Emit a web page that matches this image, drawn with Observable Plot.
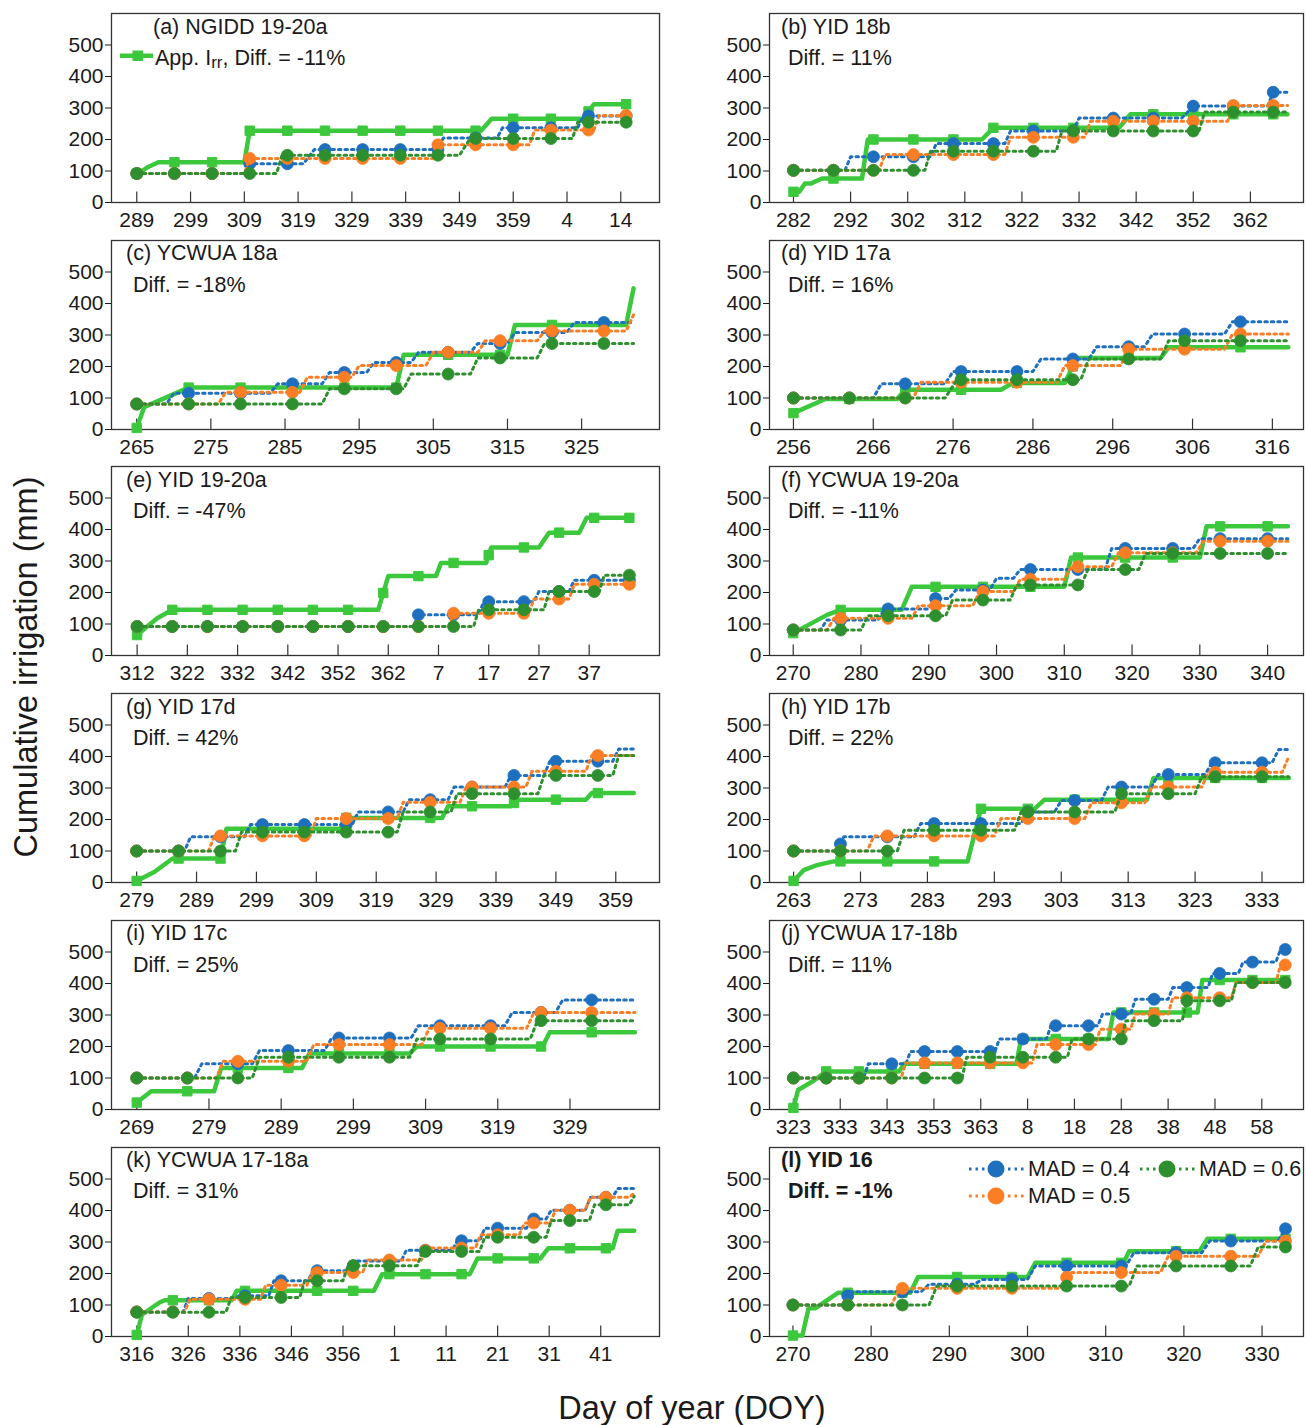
<!DOCTYPE html>
<html>
<head>
<meta charset="utf-8">
<script src="https://cdn.jsdelivr.net/npm/d3@7"></script>
<script src="https://cdn.jsdelivr.net/npm/@observablehq/plot@0.6"></script>
<style>
  html, body { margin: 0; padding: 0; background: #fff; }
  #root { position: relative; width: 1306px; height: 1425px; overflow: hidden; font-family: Arial, "Liberation Sans", sans-serif; color: #1a1a1a; }
  .panel { position: absolute; }
  .txt { position: absolute; font-size: 21.5px; line-height: 21px; white-space: nowrap; color: #1a1a1a; }
  .bold { font-weight: bold; }
</style>
</head>
<body>
<div id="root"></div>
<script>
// ---------------- DATA ----------------
const panelIds = ["a","b","c","d","e","f","g","h","i","j","k","l"];
const titles = ["(a) NGIDD 19-20a","(b) YID 18b","(c) YCWUA 18a","(d) YID 17a","(e) YID 19-20a","(f) YCWUA 19-20a",
                "(g) YID 17d","(h) YID 17b","(i) YID 17c","(j) YCWUA 17-18b","(k) YCWUA 17-18a","(l) YID 16"];
const diffs = ["-11%","11%","-18%","16%","-47%","-11%","42%","22%","25%","11%","31%","-1%"];
const startDays = [289,282,265,256,312,270,279,263,269,323,316,270];
const endDays   = [380,368.5,332,318,410,343,362,337,338,428,412.5,333];
const xMin = [284.3,277.8,261.6,253.0,306.9,266.5,274.8,259.4,265.5,317.9,311.1,267.0];
const xMax = [386.2,371.3,335.5,319.9,416.0,345.3,366.3,339.2,341.4,431.9,417.4,335.3];

// x tick values (day count; values above 365 wrap into the next year)
const ticks_a = [289,299,309,319,329,339,349,359,369,379];
const ticks_b = [282,292,302,312,322,332,342,352,362];
const ticks_c = [265,275,285,295,305,315,325];
const ticks_d = [256,266,276,286,296,306,316];
const ticks_e = [312,322,332,342,352,362,372,382,392,402];
const ticks_f = [270,280,290,300,310,320,330,340];
const ticks_g = [279,289,299,309,319,329,339,349,359];
const ticks_h = [263,273,283,293,303,313,323,333];
const ticks_i = [269,279,289,299,309,319,329];
const ticks_j = [323,333,343,353,363,373,383,393,403,413,423];
const ticks_k = [316,326,336,346,356,366,376,386,396,406];
const ticks_l = [270,280,290,300,310,320,330];
const yTicks = [0,100,200,300,400,500];

// series: first [day, value], then [day rise starts, new value, rise length in days (default 1)]
const a_app = [[289,92],[289,100],[290,112],[291,120],[292,128],[309,228],[353,266,2],[372,312,2]];
const a_m4  = [[289,92],[309,123],[320,168,2],[345,205],[356,237],[371,275]];
const a_m5  = [[289,92],[309,140],[344,183],[362,230],[374,276]];
const a_m6  = [[289,92],[315,150],[349,203,2],[370,255]];

const b_app = [[282,34],[283,60],[285,76,2],[294,200],[315,237,2],[339,280,2]];
const b_m4  = [[282,102],[291,145],[306,187],[319,227],[331,268],[350,306,2],[365,350]];
const b_m5  = [[282,102],[297,152],[319,207],[333,258],[358,308]];
const b_m6  = [[282,102],[305,163],[328,227],[353,287]];

const c_app = [[265,5],[265,71],[266,133,6],[300,237],[315,332],[331,448]];
const c_m4  = [[265,81],[269,115],[283,145],[290,181],[296,213],[302,245],[310,273],[315,308],[323,340]];
const c_m5  = [[265,81],[276,118],[287,166],[294,203],[304,245],[311,282],[319,313],[331,364]];
const c_m6  = [[265,81],[290,129],[301,176],[310,227],[319,273]];

const d_app = [[256,52],[256,97,4],[269,126],[282,148,1.5],[290,227,1.5],[302,261]];
const d_m4  = [[256,100],[266,145],[275,184],[286,224],[293,263],[300,303],[310,342]];
const d_m5  = [[256,100],[271,150],[289,203],[297,255],[310,303]];
const d_m6  = [[256,100],[275,158,1.5],[292,224],[302,282]];

const e_app = [[312,65],[312,92,2],[314,118,2],[316,145,3],[360,252,2],[371.5,294],[381.5,343],[392,390,2],[400,437,1.5]];
const e_m4  = [[312,92],[367,129],[380,171],[391,203],[398,239]];
const e_m5  = [[312,92],[374,134],[390,179],[398,226]];
const e_m6  = [[312,92],[379,145],[393,203],[404,255]];

const f_app = [[270,71],[270,129,5],[275,145,2],[286,218,1.5],[310,311],[330,410]];
const f_m4  = [[270,81],[274,113],[282.5,148],[290,181],[293,208],[299,245],[302.5,273],[316,340],[329,371]];
const f_m5  = [[270,81],[275,118],[287.5,158],[296.5,203],[302.5,242],[310,282],[317,326],[329.5,363]];
const f_m6  = [[270,81],[280,126],[292.5,176],[302,224],[312.5,273],[321,324]];

const g_app = [[279,5],[279,34,3],[282,76,3],[293,171],[313,205],[330,242],[341.5,263],[354,284]];
const g_m4  = [[279,100],[287,145],[297,184],[315,224],[323.5,263],[331,303],[340.5,340],[347,385],[358.5,424]];
const g_m5  = [[279,100],[291,148],[308,203],[322.5,255],[333,303],[344,353],[354,403]];
const g_m6  = [[279,100],[295.5,160],[322.5,224],[331.5,282],[346,340],[358.5,403]];

const h_app = [[263,5],[263,39,1.5],[264.5,55,2],[266.5,67,2.5],[289,234,2],[299,263,1.5],[315.8,332]];
const h_m4  = [[263,100],[269.5,145],[281,187],[297,224],[302,260],[309,303],[316.5,343],[324.5,380],[334.5,422]];
const h_m5  = [[263,100],[274,148],[293,203],[306.5,253],[315.5,303],[324,350],[336,400]];
const h_m6  = [[263,100],[278.5,166],[296,224],[311,282],[323,336]];

const i_app = [[269,22],[269,58,2],[279.7,132],[291.9,178],[306.8,200],[325.2,245]];
const i_m4  = [[269,100],[277,145],[285,187],[295,227],[307,266],[320,308],[327,348]];
const i_m5  = [[269,100],[280,153],[292.5,206],[308.5,258],[323,308]];
const i_m6  = [[269,100],[285,166],[306.8,224],[323.5,282]];

const j_app = [[323,5],[323,62],[324,92,3.4],[327.4,121,2.6],[345.6,145],[370.6,224],[390.3,308],[409.3,411]];
const j_m4  = [[323,100],[338,145],[347,184],[366,224],[377,266],[388,303],[395,350],[403,387],[411.5,432],[418,468],[426,508]];
const j_m5  = [[323,100],[346,148],[374,206],[387.5,255],[395,303],[403,355],[416.5,403],[426,459]];
const j_m6  = [[323,100],[359,166],[381.5,224],[393,282],[406,345],[416.5,403]];

const k_app = [[316,5],[316,69],[317,108,3.4],[320.4,115],[334.4,145],[362,198,1.6],[380.6,248,1.5],[394.3,280,1.5],[408.3,336]];
const k_m4  = [[316,78],[325,121],[334.8,129],[341.6,177],[349.2,209],[357.5,240],[367.3,274],[377.2,304],[382.5,344],[391.6,373],[395.4,401],[403,442],[408.3,470]];
const k_m5  = [[316,78],[325.3,118],[340,163],[349,203],[359.8,243],[371.2,281],[381.7,323],[390.2,360],[396.2,401],[403,442],[411.5,455]];
const k_m6  = [[316,77],[333.3,124],[347.6,177],[356,225],[370.4,270],[382.5,315],[395.4,368],[403.8,418],[411.5,445]];

const l_app = [[270,3],[271.2,90,0.8],[272.9,139,2.9],[285,189],[300,234],[312.3,271,0.7],[322,310]];
const l_m4  = [[270,100],[276.3,142],[286.4,166],[293.2,181],[300,224],[312.6,266],[322.3,303],[332,342]];
const l_m5  = [[270,100],[282.6,153],[304.3,203],[317,255],[329.5,303]];
const l_m6  = [[270,100],[287.4,160],[313,224],[328.5,284]];

const seriesNames = ["App. Irr","MAD = 0.4","MAD = 0.5","MAD = 0.6"];
const seriesColors = ["#3cc83c","#1f6fbf","#fb7d24","#2e8f2e"];

// ---------------- BUILD ----------------
const panelSeries = [
  [a_app,a_m4,a_m5,a_m6],[b_app,b_m4,b_m5,b_m6],[c_app,c_m4,c_m5,c_m6],[d_app,d_m4,d_m5,d_m6],
  [e_app,e_m4,e_m5,e_m6],[f_app,f_m4,f_m5,f_m6],[g_app,g_m4,g_m5,g_m6],[h_app,h_m4,h_m5,h_m6],
  [i_app,i_m4,i_m5,i_m6],[j_app,j_m4,j_m5,j_m6],[k_app,k_m4,k_m5,k_m6],[l_app,l_m4,l_m5,l_m6]
];
const panelTicks = [ticks_a,ticks_b,ticks_c,ticks_d,ticks_e,ticks_f,ticks_g,ticks_h,ticks_i,ticks_j,ticks_k,ticks_l];

function buildLine(steps, end) {
  const pts = [{x: steps[0][0], y: steps[0][1]}];
  let cur = steps[0][1];
  for (const [d, v, w = 1] of steps.slice(1)) {
    const last = pts[pts.length - 1];
    if (d > last.x) pts.push({x: d, y: cur});
    pts.push({x: d + w, y: v});
    cur = v;
  }
  if (end > pts[pts.length - 1].x) pts.push({x: end, y: cur});
  return pts;
}
function valueAt(pts, d) {
  if (d <= pts[0].x) return pts[0].y;
  for (let i = 0; i < pts.length - 1; i++) {
    const p = pts[i], q = pts[i + 1];
    if (d >= p.x && d <= q.x) return q.x === p.x ? q.y : p.y + (q.y - p.y) * (d - p.x) / (q.x - p.x);
  }
  return pts[pts.length - 1].y;
}
const fmtDay = d => String(d > 365 ? d - 365 : d);

const root = document.getElementById("root");
const FONT = 'Arial, "Liberation Sans", sans-serif';

panelIds.forEach((id, i) => {
  const col = i % 2, row = Math.floor(i / 2);
  const frameTop = 13 + 226.7 * row;
  const left = col === 0 ? 0 : 660;
  const width = col === 0 ? 662 : 646;
  const mL = col === 0 ? 111 : 109;
  const start = startDays[i], end = endDays[i];
  const marks = [
    Plot.frame({stroke: "#333", strokeWidth: 1.3}),
    Plot.ruleX(panelTicks[i], {x: d => d, y1: 0, y2: 33, stroke: "#333", strokeWidth: 1.2}),
    Plot.axisX({ticks: panelTicks[i], tickFormat: fmtDay, tickSize: 0, tickPadding: 10, label: null}),
    Plot.axisY({ticks: yTicks, tickSize: 6, tickPadding: 2, label: null})
  ];
  panelSeries[i].forEach((steps, s) => {
    const pts = buildLine(steps, end);
    const mk = [];
    for (let d = start; d <= end + 1e-6; d += 7) mk.push({x: d, y: valueAt(pts, d)});
    const color = seriesColors[s];
    if (s === 0) {
      marks.push(Plot.line(pts, {x: "x", y: "y", stroke: color, strokeWidth: 4.5, strokeLinejoin: "round"}));
      marks.push(Plot.dot(mk, {x: "x", y: "y", symbol: "square", r: 5.3, fill: color, stroke: color, strokeWidth: 1}));
    } else {
      marks.push(Plot.line(pts, {x: "x", y: "y", stroke: color, strokeWidth: 3, strokeDasharray: "2.5,4"}));
      marks.push(Plot.dot(mk, {x: "x", y: "y", r: 6, fill: color, stroke: color, strokeWidth: 0.8}));
    }
  });
  const chart = Plot.plot({
    width, height: 227, marginLeft: mL, marginRight: 3, marginTop: 5, marginBottom: 33,
    x: {domain: [xMin[i], xMax[i]]},
    y: {domain: [0, 600]},
    style: {fontFamily: FONT, fontSize: "21px", color: "#1a1a1a", background: "transparent", overflow: "visible"},
    marks
  });
  const div = document.createElement("div");
  div.className = "panel";
  div.style.left = left + "px";
  div.style.top = (frameTop - 5) + "px";
  div.appendChild(chart);
  root.appendChild(div);

  // panel texts
  const tx = col === 0 ? (i === 0 ? 153 : 126) : 781;
  const t = document.createElement("div");
  t.className = "txt" + (i === 11 ? " bold" : "");
  t.style.left = tx + "px";
  t.style.top = (frameTop + 3.5) + "px";
  t.textContent = titles[i];
  root.appendChild(t);
  const dd = document.createElement("div");
  dd.className = "txt" + (i === 11 ? " bold" : "");
  if (i === 0) {
    dd.style.left = "155px";
    dd.innerHTML = 'App. I<span style="font-size:17px;position:relative;top:3px">rr</span>, Diff. = ' + diffs[i];
  } else {
    dd.style.left = (col === 0 ? 133 : 788) + "px";
    dd.textContent = "Diff. = " + diffs[i];
  }
  dd.style.top = (frameTop + 34.8) + "px";
  root.appendChild(dd);
});

// Legend swatches
const ns = "http://www.w3.org/2000/svg";
const lg = document.createElementNS(ns, "svg");
lg.setAttribute("width", 1306); lg.setAttribute("height", 1425);
lg.style.position = "absolute"; lg.style.left = "0"; lg.style.top = "0"; lg.style.pointerEvents = "none";
function el(name, attrs) { const e = document.createElementNS(ns, name); for (const k in attrs) e.setAttribute(k, attrs[k]); lg.appendChild(e); return e; }
// App. Irr swatch in panel (a)
el("line", {x1: 120, x2: 153, y1: 55.7, y2: 55.7, stroke: seriesColors[0], "stroke-width": 4.5});
el("rect", {x: 132.5, y: 50.5, width: 10.5, height: 10.5, fill: seriesColors[0]});
// MAD legend in panel (l)
const legendItems = [
  {s: 1, x: 969, y: 1169, tx: 1028},
  {s: 3, x: 1140, y: 1169, tx: 1199},
  {s: 2, x: 969, y: 1196, tx: 1028}
];
legendItems.forEach(it => {
  el("line", {x1: it.x, x2: it.x + 57, y1: it.y, y2: it.y, stroke: seriesColors[it.s], "stroke-width": 3, "stroke-dasharray": "2.5,4"});
  el("circle", {cx: it.x + 27, cy: it.y, r: 8.5, fill: seriesColors[it.s]});
  const t = document.createElement("div");
  t.className = "txt";
  t.style.left = it.tx + "px";
  t.style.top = (it.y - 10) + "px";
  t.textContent = seriesNames[it.s];
  root.appendChild(t);
});
root.appendChild(lg);

// Axis titles
const yl = document.createElement("div");
yl.textContent = "Cumulative irrigation (mm)";
Object.assign(yl.style, {position: "absolute", left: "26px", top: "667px", fontSize: "32.5px", lineHeight: "32px",
  whiteSpace: "nowrap", transform: "translate(-50%, -50%) rotate(-90deg)", color: "#1a1a1a"});
root.appendChild(yl);
const xl = document.createElement("div");
xl.textContent = "Day of year (DOY)";
Object.assign(xl.style, {position: "absolute", left: "692px", top: "1392px", fontSize: "32.5px", lineHeight: "32px",
  whiteSpace: "nowrap", transform: "translateX(-50%)", color: "#1a1a1a"});
root.appendChild(xl);
</script>
</body>
</html>
